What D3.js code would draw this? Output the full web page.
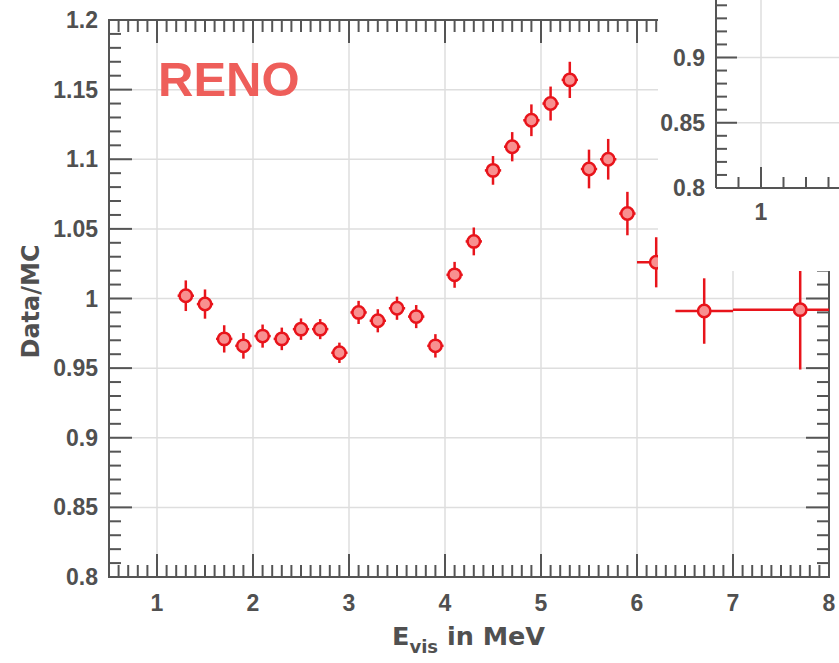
<!DOCTYPE html>
<html>
<head>
<meta charset="utf-8">
<script src="https://cdn.jsdelivr.net/npm/d3@7"></script>
<style>
  body { margin: 0; background: #fff; }
  text { font-family: "Liberation Sans", Arial, sans-serif; font-weight: bold; fill: #505050; }
  text.title { font-family: "DejaVu Sans", sans-serif; }
</style>
</head>
<body>
<div id="chart_parent"></div>
<script>
// RENO data / MC ratio vs visible energy
const energy = [1.3, 1.5, 1.7, 1.9, 2.1, 2.3, 2.5, 2.7, 2.9, 3.1, 3.3, 3.5, 3.7, 3.9,
    4.1, 4.3, 4.5, 4.7, 4.9, 5.1, 5.3, 5.5, 5.7, 5.9, 6.2, 6.7, 7.7];
const ratio = [1.002, 0.996, 0.971, 0.966, 0.973, 0.971, 0.978, 0.978, 0.961, 0.990, 0.984, 0.993, 0.987, 0.966,
    1.017, 1.041, 1.092, 1.109, 1.128, 1.140, 1.157, 1.093, 1.100, 1.061, 1.026, 0.991, 0.992];
const ratioErr = [0.011, 0.0105, 0.0098, 0.0092, 0.0083, 0.0081, 0.0077, 0.0072, 0.0073, 0.0083, 0.0083, 0.0083, 0.0083, 0.0084,
    0.0093, 0.010, 0.0103, 0.0105, 0.0114, 0.0122, 0.013, 0.0139, 0.0146, 0.0156, 0.018, 0.0235, 0.043];
const binLow = [1.215, 1.415, 1.615, 1.815, 2.015, 2.215, 2.415, 2.615, 2.815, 3.015, 3.215, 3.415, 3.615, 3.815,
    4.015, 4.215, 4.415, 4.615, 4.815, 5.015, 5.215, 5.415, 5.615, 5.815, 6.0, 6.4, 7.0];
const binHigh = [1.385, 1.585, 1.785, 1.985, 2.185, 2.385, 2.585, 2.785, 2.985, 3.185, 3.385, 3.585, 3.785, 3.985,
    4.185, 4.385, 4.585, 4.785, 4.985, 5.185, 5.385, 5.585, 5.785, 5.985, 6.4, 7.0, 8.0];

const xTicks = [1, 2, 3, 4, 5, 6, 7, 8];
const yTicks = [0.8, 0.85, 0.9, 0.95, 1, 1.05, 1.1, 1.15, 1.2];
const yTickLabels = ['0.8', '0.85', '0.9', '0.95', '1', '1.05', '1.1', '1.15', '1.2'];
const insetXTicks = [1];
const insetYTicks = [0.8, 0.85, 0.9, 0.95];
const insetYTickLabels = ['0.8', '0.85', '0.9', '0.95'];

const chartConfig = {
    outerWidth: 839,
    outerHeight: 663,
    plot: { left: 109, right: 829, top: 20, bottom: 577 },
    inset: { left: 716, bottom: 188, cover: { x: 658, y: 0, w: 181, h: 271 } },
    axisColor: '#555',
    gridColor: '#dedede',
    red: '#e8141b',
    markerFill: '#f89090',
};

const svg = d3.select('#chart_parent').append('svg')
    .attr('width', chartConfig.outerWidth)
    .attr('height', chartConfig.outerHeight);

const p = chartConfig.plot;
const x = d3.scaleLinear().domain([0.5, 8]).range([p.left, p.right]);
const y = d3.scaleLinear().domain([0.8, 1.2]).range([p.bottom, p.top]);

const minorX = d3.range(5, 81).map(d => d / 10);
const minorY = d3.range(80, 121).map(d => d / 100);
const isMajorY = v => Math.abs(v * 20 - Math.round(v * 20)) < 1e-6;

// grid
const grid = svg.append('g').attr('stroke', chartConfig.gridColor).attr('stroke-width', 1.5);
grid.selectAll('.gx').data(xTicks.slice(0, -1)).enter().append('line')
    .attr('x1', d => x(d)).attr('x2', d => x(d)).attr('y1', p.top).attr('y2', p.bottom);
grid.selectAll('.gy').data(yTicks.slice(1, -1)).enter().append('line')
    .attr('x1', p.left).attr('x2', p.right).attr('y1', d => y(d)).attr('y2', d => y(d));

// axes with ticks on all four sides
function tickLen(major) { return major ? 23 : 12; }
const axes = svg.append('g').attr('stroke', chartConfig.axisColor).attr('stroke-width', 2);
axes.append('rect').attr('x', p.left).attr('y', p.top)
    .attr('width', p.right - p.left).attr('height', p.bottom - p.top).attr('fill', 'none');
minorX.forEach(v => {
    const major = Math.abs(v - Math.round(v)) < 1e-6;
    axes.append('line').attr('x1', x(v)).attr('x2', x(v)).attr('y1', p.bottom).attr('y2', p.bottom - tickLen(major));
    axes.append('line').attr('x1', x(v)).attr('x2', x(v)).attr('y1', p.top).attr('y2', p.top + tickLen(major));
});
minorY.forEach(v => {
    const major = isMajorY(v);
    axes.append('line').attr('x1', p.left).attr('x2', p.left + tickLen(major)).attr('y1', y(v)).attr('y2', y(v));
    axes.append('line').attr('x1', p.right).attr('x2', p.right - tickLen(major)).attr('y1', y(v)).attr('y2', y(v));
});

svg.append('g').selectAll('text').data(xTicks).enter().append('text')
    .attr('x', d => x(d)).attr('y', p.bottom + 34)
    .attr('text-anchor', 'middle').attr('font-size', 23)
    .text(d => d);
svg.append('g').selectAll('text').data(yTicks).enter().append('text')
    .attr('x', p.left - 11).attr('y', d => y(d) + 8)
    .attr('text-anchor', 'end').attr('font-size', 23)
    .text((d, i) => yTickLabels[i]);

// axis titles
const xTitle = svg.append('text').attr('class', 'title').attr('x', 392).attr('y', 645).attr('font-size', 25.5);
xTitle.append('tspan').text('E');
xTitle.append('tspan').attr('font-size', 18).attr('dy', 8).text('vis');
xTitle.append('tspan').attr('dy', -8).text(' in MeV');
svg.append('text').attr('class', 'title')
    .attr('transform', `translate(39,${(p.top + p.bottom) / 2 + 3}) rotate(-90)`)
    .attr('text-anchor', 'middle').attr('font-size', 24)
    .text('Data/MC');

svg.append('text').attr('x', 158).attr('y', 96)
    .attr('font-size', 49).style('fill', '#ee5e5a')
    .text('RENO');

// data points
const points = energy.map((e, i) => ({ e, r: ratio[i], err: ratioErr[i], lo: binLow[i], hi: binHigh[i] }));
const pts = svg.append('g').attr('stroke', chartConfig.red).attr('stroke-width', 2.5);
pts.selectAll('.ex').data(points).enter().append('line')
    .attr('x1', d => x(d.lo)).attr('x2', d => x(d.hi)).attr('y1', d => y(d.r)).attr('y2', d => y(d.r));
pts.selectAll('.ey').data(points).enter().append('line')
    .attr('x1', d => x(d.e)).attr('x2', d => x(d.e)).attr('y1', d => y(d.r - d.err)).attr('y2', d => y(d.r + d.err));
pts.selectAll('circle').data(points).enter().append('circle')
    .attr('cx', d => x(d.e)).attr('cy', d => y(d.r)).attr('r', 6.2)
    .attr('fill', chartConfig.markerFill);

// inset (partially visible)
const ins = chartConfig.inset;
svg.append('rect').attr('x', ins.cover.x).attr('y', ins.cover.y)
    .attr('width', ins.cover.w).attr('height', ins.cover.h).attr('fill', '#fff');

const ix = d3.scaleLinear().domain([0.6, 1.8]).range([ins.left, ins.left + 1.2 * 112.5]);
const iy = d3.scaleLinear().domain([0.8, 0.9]).range([ins.bottom, ins.bottom - 130.5]);

const ig = svg.append('g').attr('stroke', chartConfig.gridColor).attr('stroke-width', 1.5);
ig.selectAll('line.v').data(insetXTicks).enter().append('line')
    .attr('x1', d => ix(d)).attr('x2', d => ix(d)).attr('y1', 0).attr('y2', ins.bottom);
ig.selectAll('line.h').data(insetYTicks.slice(1)).enter().append('line')
    .attr('x1', ins.left).attr('x2', chartConfig.outerWidth).attr('y1', d => iy(d)).attr('y2', d => iy(d));

const ia = svg.append('g').attr('stroke', chartConfig.axisColor).attr('stroke-width', 2);
ia.append('line').attr('x1', ins.left).attr('x2', ins.left).attr('y1', -10).attr('y2', ins.bottom);
ia.append('line').attr('x1', ins.left).attr('x2', chartConfig.outerWidth).attr('y1', ins.bottom).attr('y2', ins.bottom);
d3.range(6, 18, 2).map(d => d / 10).forEach(v => {
    const major = Math.abs(v - 1) < 1e-6;
    ia.append('line').attr('x1', ix(v)).attr('x2', ix(v)).attr('y1', ins.bottom).attr('y2', ins.bottom - (major ? 21 : 11));
});
d3.range(80, 96).map(d => d / 100).forEach(v => {
    const major = isMajorY(v);
    ia.append('line').attr('x1', ins.left).attr('x2', ins.left + (major ? 21 : 11)).attr('y1', iy(v)).attr('y2', iy(v));
});

svg.append('g').selectAll('text').data(insetXTicks).enter().append('text')
    .attr('x', d => ix(d)).attr('y', ins.bottom + 32)
    .attr('text-anchor', 'middle').attr('font-size', 23)
    .text(d => d);
svg.append('g').selectAll('text').data(insetYTicks).enter().append('text')
    .attr('x', ins.left - 11).attr('y', d => iy(d) + 8)
    .attr('text-anchor', 'end').attr('font-size', 23)
    .text((d, i) => insetYTickLabels[i]);
</script>
</body>
</html>
